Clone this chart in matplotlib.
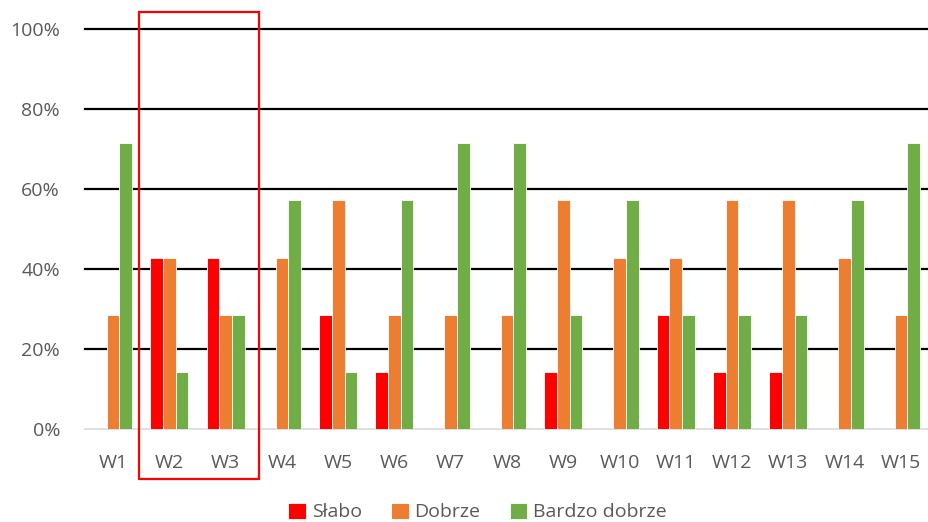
import numpy as np
import matplotlib.pyplot as plt
from matplotlib.patches import Rectangle

plt.rcParams['font.family'] = ['Open Sans', 'DejaVu Sans']

kategorie = ['W1', 'W2', 'W3', 'W4', 'W5', 'W6', 'W7', 'W8', 'W9', 'W10',
             'W11', 'W12', 'W13', 'W14', 'W15']
slabo = [0, 3, 3, 0, 2, 1, 0, 0, 1, 0, 2, 1, 1, 0, 0]
dobrze = [2, 3, 2, 3, 4, 2, 2, 2, 4, 3, 3, 4, 4, 3, 2]
bardzo = [5, 1, 2, 4, 1, 4, 5, 5, 2, 4, 2, 2, 2, 4, 5]
n_osob = 7

serie = [('Słabo', slabo, '#FF0000'),
         ('Dobrze', dobrze, '#ED7D31'),
         ('Bardzo dobrze', bardzo, '#70AD47')]

fig = plt.figure(figsize=(9.29, 5.22), dpi=100)
ax = fig.add_axes([0.0915, 0.178, 0.9085, 0.7664])

x = np.arange(len(kategorie))
w = 0.225
for i, (nazwa, vals, kol) in enumerate(serie):
    ax.bar(x + (i - 1) * w, np.array(vals) / n_osob, w, color=kol,
           edgecolor='white', linewidth=0.6, label=nazwa, zorder=3)

ax.set_xlim(-0.5, len(kategorie) - 0.5)
ax.set_ylim(0, 1)
ax.set_yticks(np.arange(0, 1.01, 0.2))
ax.set_yticklabels([f'{int(round(v*100))}%' for v in np.arange(0, 1.01, 0.2)])
ax.set_xticks(x)
ax.set_xticklabels(kategorie)
ax.tick_params(length=0, labelsize=14, colors='#595959')
ax.tick_params(axis='x', pad=18)
ax.tick_params(axis='y', pad=18)
for v in np.arange(0.2, 1.01, 0.2):
    ax.axhline(v, color='black', lw=1.6, zorder=1, clip_on=False)
for s in ['top', 'right', 'left']:
    ax.spines[s].set_visible(False)
ax.spines['bottom'].set_color('#D9D9D9')
ax.spines['bottom'].set_linewidth(1.2)

# ramka wokol W2-W3
ax.add_patch(Rectangle((1 - 0.54, -0.125), 2.13, 1.1675, fill=False,
                       edgecolor='#FF0000', lw=1.6, clip_on=False, zorder=5))

ax.legend(loc='lower center', bbox_to_anchor=(0.465, -0.265), ncol=3,
          frameon=False, fontsize=14, labelcolor='#595959',
          handlelength=0.9, handleheight=0.9, handletextpad=0.3,
          columnspacing=1.5, borderpad=0.2)

fig.savefig('out.png', dpi=100)
